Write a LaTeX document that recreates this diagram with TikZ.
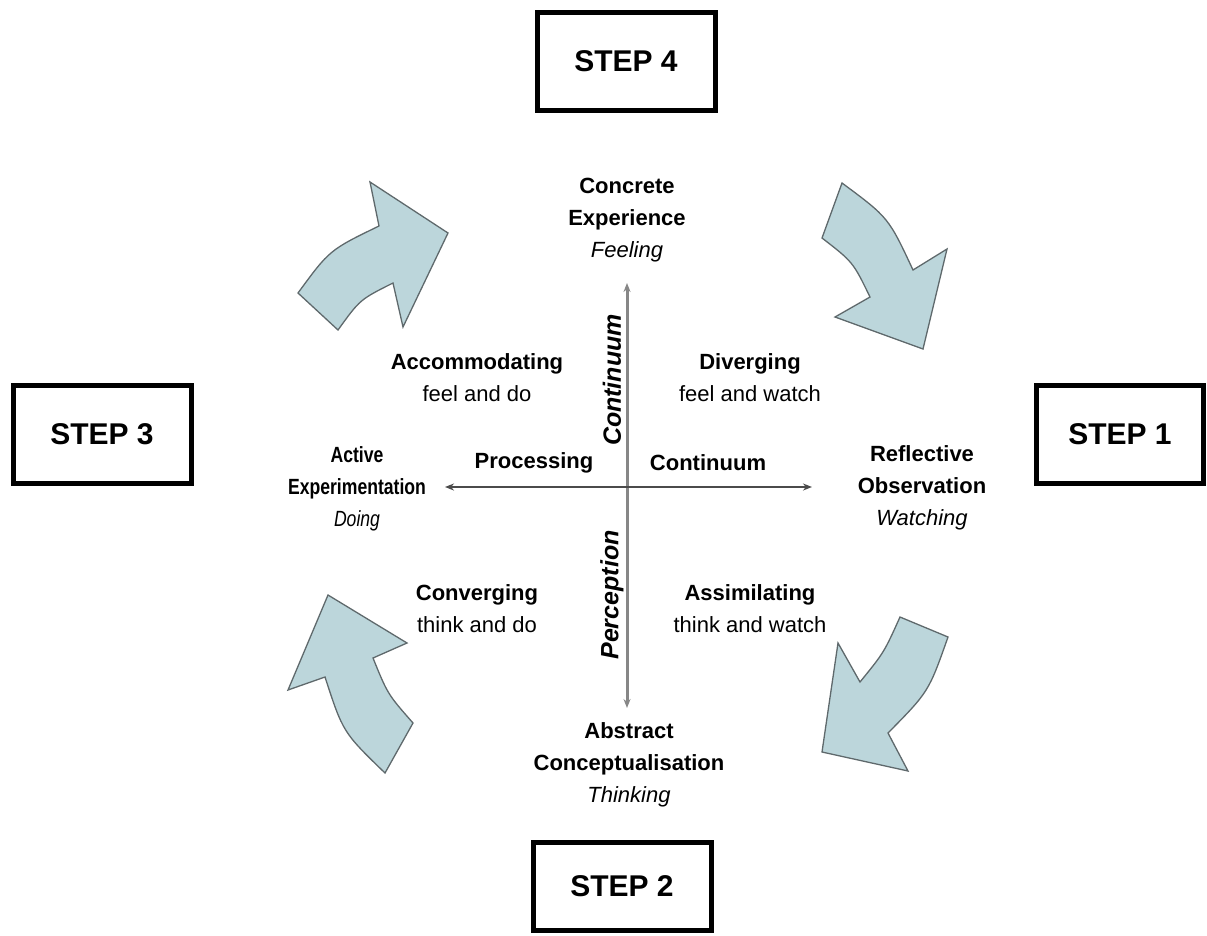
\documentclass[tikz,border=0pt]{standalone}
\usepackage{fontspec}
\setmainfont{Liberation Sans}
\newfontfamily\narrowfont[FakeStretch=0.8]{Liberation Sans}
\usetikzlibrary{arrows.meta}

\definecolor{arrowfill}{RGB}{188,214,219}
\definecolor{arrowline}{RGB}{95,105,108}
\definecolor{axisgray}{RGB}{135,135,135}
\definecolor{axisdark}{RGB}{75,75,75}

\begin{document}
\begin{tikzpicture}[x=1pt,y=-1pt,
  stepbox/.style={draw,line width=5pt,minimum width=178pt,minimum height=98pt,inner sep=0pt,
    font=\fontsize{30}{36}\selectfont\bfseries},
  lbl/.style={align=center,inner sep=0pt,font=\fontsize{22}{32}\selectfont},
  vlbl/.style={rotate=90,inner sep=0pt,font=\fontsize{25}{30}\selectfont\bfseries\itshape},
  bigarrow/.style={fill=arrowfill,draw=arrowline,line width=1.3pt,line join=miter}]
   \useasboundingbox (0,0) rectangle (1207,935);
   % the four steps
   \node[stepbox] (step4) at (626,61.5) {STEP 4};
   \node[stepbox] (step3) at (102,434) {STEP 3};
   \node[stepbox,minimum width=167pt] (step1) at (1120,434) {STEP 1};
   \node[stepbox,minimum height=88pt] (step2) at (622,886) {STEP 2};
   % curved arrows
   \draw[bigarrow] (298,293) -- (338,330) .. controls (360,299.5) .. (393,283) -- (403,327)
     -- (448,233) -- (370,182) -- (379,226) .. controls (329.5,250) .. (298,293) -- cycle;
   \draw[bigarrow] (842,183) -- (822,238) .. controls (853,262) .. (870,297) -- (835,317)
     -- (923,349) -- (947,249) -- (913,270) .. controls (888.5,217.5) .. (842,183) -- cycle;
   \draw[bigarrow] (948,637) -- (900,617) .. controls (884,652.5) .. (860,682) -- (838,643)
     -- (822,752) -- (908,771) -- (888,733) .. controls (928.7,691.7) .. (948,637) -- cycle;
   \draw[bigarrow] (385,773) -- (413,723) .. controls (387.7,694.2) .. (373,658) -- (407,643)
     -- (328,595) -- (288,690) -- (325,677) .. controls (343,732.3) .. (385,773) -- cycle;
   % axes
   \coordinate (top) at (627,283);
   \coordinate (bottom) at (627,708);
   \coordinate (left) at (445,487);
   \coordinate (right) at (812,487);
   \draw[axisgray,line width=3pt,{Stealth[length=9pt,width=7pt]}-{Stealth[length=9pt,width=7pt]}] (bottom) -- (top);
   \draw[axisdark,line width=2pt,{Stealth[length=9pt,width=7pt]}-{Stealth[length=9pt,width=7pt]}] (left) -- (right);
   % poles
   \node[lbl] (concrete) at (627,220) {\textbf{Concrete}\\\textbf{Experience}\\\textit{Feeling}};
   \node[lbl] (reflective) at (922,488) {\textbf{Reflective}\\\textbf{Observation}\\\textit{Watching}};
   \node[lbl,font=\fontsize{22}{32}\narrowfont] (active) at (357,489) {\textbf{Active}\\\textbf{Experimentation}\\\textit{Doing}};
   \node[lbl] (abstract) at (629,765) {\textbf{Abstract}\\\textbf{Conceptualisation}\\\textit{Thinking}};
   % quadrants
   \node[lbl] (accom) at (477,378) {\textbf{Accommodating}\\feel and do};
   \node[lbl] (diverg) at (750,378) {\textbf{Diverging}\\feel and watch};
   \node[lbl] (converg) at (477,609) {\textbf{Converging}\\think and do};
   \node[lbl] (assim) at (750,609) {\textbf{Assimilating}\\think and watch};
   % axis names
   \node[lbl,font=\fontsize{22}{32}\selectfont\bfseries] (processing) at (534,463) {Processing};
   \node[lbl,font=\fontsize{22}{32}\selectfont\bfseries] (hcont) at (708,463) {Continuum};
   \node[vlbl] (vcont) at (612,380) {Continuum};
   \node[vlbl] (perception) at (612,595) {Perception};
\end{tikzpicture}
\end{document}
